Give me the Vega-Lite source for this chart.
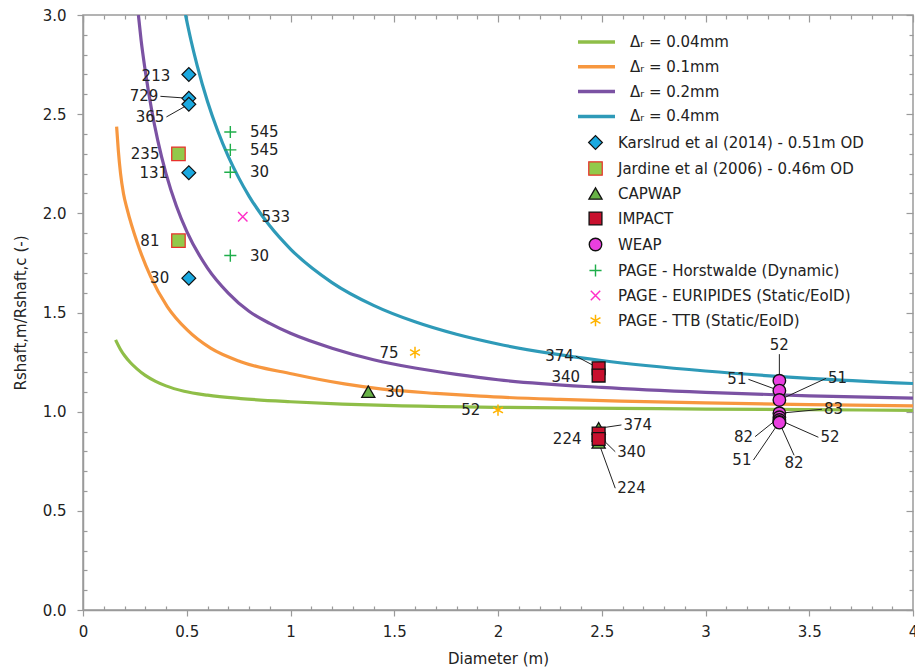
{
  "$schema": "https://vega.github.io/schema/vega-lite/v6.json",
  "width": 830,
  "height": 595,
  "autosize": {"type": "none"},
  "padding": {"left": 83, "top": 15, "right": 2, "bottom": 62},
  "config": {
    "font": "DejaVu Sans",
    "view": {"stroke": "#9a9a9a", "strokeWidth": 1.5},
    "axis": {
      "domainColor": "#9a9a9a", "domainWidth": 1.5,
      "tickColor": "#9a9a9a", "tickWidth": 1.2,
      "labelColor": "#222", "titleColor": "#222",
      "labelFontSize": 15, "titleFontSize": 15, "titleFontWeight": "normal",
      "grid": false, "labelOverlap": false, "labelFlush": false, "labelBound": false
    },
    "legend": {"labelColor": "#222", "labelFontSize": 15, "title": null, "labelLimit": 320}
  },
  "datasets": {
    "curves": [
      {"curve": "Δᵣ = 0.04mm", "D": 0.157, "R": 1.362},
      {"curve": "Δᵣ = 0.04mm", "D": 0.18, "R": 1.315},
      {"curve": "Δᵣ = 0.04mm", "D": 0.2, "R": 1.283},
      {"curve": "Δᵣ = 0.04mm", "D": 0.228, "R": 1.248},
      {"curve": "Δᵣ = 0.04mm", "D": 0.26, "R": 1.216},
      {"curve": "Δᵣ = 0.04mm", "D": 0.3, "R": 1.183},
      {"curve": "Δᵣ = 0.04mm", "D": 0.35, "R": 1.153},
      {"curve": "Δᵣ = 0.04mm", "D": 0.4, "R": 1.13},
      {"curve": "Δᵣ = 0.04mm", "D": 0.487, "R": 1.103},
      {"curve": "Δᵣ = 0.04mm", "D": 0.6, "R": 1.083},
      {"curve": "Δᵣ = 0.04mm", "D": 0.76, "R": 1.066},
      {"curve": "Δᵣ = 0.04mm", "D": 1.0, "R": 1.05},
      {"curve": "Δᵣ = 0.04mm", "D": 1.25, "R": 1.038},
      {"curve": "Δᵣ = 0.04mm", "D": 1.5, "R": 1.03},
      {"curve": "Δᵣ = 0.04mm", "D": 2.0, "R": 1.022},
      {"curve": "Δᵣ = 0.04mm", "D": 2.59, "R": 1.017},
      {"curve": "Δᵣ = 0.04mm", "D": 3.0, "R": 1.013},
      {"curve": "Δᵣ = 0.04mm", "D": 3.5, "R": 1.01},
      {"curve": "Δᵣ = 0.04mm", "D": 4.0, "R": 1.007},
      {"curve": "Δᵣ = 0.1mm", "D": 0.162, "R": 2.437},
      {"curve": "Δᵣ = 0.1mm", "D": 0.17, "R": 2.32},
      {"curve": "Δᵣ = 0.1mm", "D": 0.181, "R": 2.2},
      {"curve": "Δᵣ = 0.1mm", "D": 0.195, "R": 2.1},
      {"curve": "Δᵣ = 0.1mm", "D": 0.213, "R": 2.02},
      {"curve": "Δᵣ = 0.1mm", "D": 0.262, "R": 1.85},
      {"curve": "Δᵣ = 0.1mm", "D": 0.326, "R": 1.681},
      {"curve": "Δᵣ = 0.1mm", "D": 0.406, "R": 1.53},
      {"curve": "Δᵣ = 0.1mm", "D": 0.502, "R": 1.412},
      {"curve": "Δᵣ = 0.1mm", "D": 0.615, "R": 1.32},
      {"curve": "Δᵣ = 0.1mm", "D": 0.76, "R": 1.252},
      {"curve": "Δᵣ = 0.1mm", "D": 1.01, "R": 1.19},
      {"curve": "Δᵣ = 0.1mm", "D": 1.26, "R": 1.14},
      {"curve": "Δᵣ = 0.1mm", "D": 1.433, "R": 1.115},
      {"curve": "Δᵣ = 0.1mm", "D": 1.7, "R": 1.092},
      {"curve": "Δᵣ = 0.1mm", "D": 1.915, "R": 1.078},
      {"curve": "Δᵣ = 0.1mm", "D": 2.3, "R": 1.062},
      {"curve": "Δᵣ = 0.1mm", "D": 2.59, "R": 1.053},
      {"curve": "Δᵣ = 0.1mm", "D": 3.0, "R": 1.044},
      {"curve": "Δᵣ = 0.1mm", "D": 3.5, "R": 1.036},
      {"curve": "Δᵣ = 0.1mm", "D": 4.0, "R": 1.029},
      {"curve": "Δᵣ = 0.2mm", "D": 0.267, "R": 3.0},
      {"curve": "Δᵣ = 0.2mm", "D": 0.28, "R": 2.873},
      {"curve": "Δᵣ = 0.2mm", "D": 0.3, "R": 2.719},
      {"curve": "Δᵣ = 0.2mm", "D": 0.33, "R": 2.526},
      {"curve": "Δᵣ = 0.2mm", "D": 0.36, "R": 2.369},
      {"curve": "Δᵣ = 0.2mm", "D": 0.4, "R": 2.2},
      {"curve": "Δᵣ = 0.2mm", "D": 0.45, "R": 2.037},
      {"curve": "Δᵣ = 0.2mm", "D": 0.5, "R": 1.909},
      {"curve": "Δᵣ = 0.2mm", "D": 0.6, "R": 1.724},
      {"curve": "Δᵣ = 0.2mm", "D": 0.7, "R": 1.598},
      {"curve": "Δᵣ = 0.2mm", "D": 0.8, "R": 1.506},
      {"curve": "Δᵣ = 0.2mm", "D": 0.9, "R": 1.445},
      {"curve": "Δᵣ = 0.2mm", "D": 1.0, "R": 1.395},
      {"curve": "Δᵣ = 0.2mm", "D": 1.2, "R": 1.32},
      {"curve": "Δᵣ = 0.2mm", "D": 1.4, "R": 1.262},
      {"curve": "Δᵣ = 0.2mm", "D": 1.6, "R": 1.22},
      {"curve": "Δᵣ = 0.2mm", "D": 1.8, "R": 1.188},
      {"curve": "Δᵣ = 0.2mm", "D": 2.0, "R": 1.161},
      {"curve": "Δᵣ = 0.2mm", "D": 2.5, "R": 1.122},
      {"curve": "Δᵣ = 0.2mm", "D": 3.0, "R": 1.097},
      {"curve": "Δᵣ = 0.2mm", "D": 3.5, "R": 1.08},
      {"curve": "Δᵣ = 0.2mm", "D": 4.0, "R": 1.068},
      {"curve": "Δᵣ = 0.4mm", "D": 0.494, "R": 3.0},
      {"curve": "Δᵣ = 0.4mm", "D": 0.52, "R": 2.874},
      {"curve": "Δᵣ = 0.4mm", "D": 0.55, "R": 2.746},
      {"curve": "Δᵣ = 0.4mm", "D": 0.6, "R": 2.564},
      {"curve": "Δᵣ = 0.4mm", "D": 0.65, "R": 2.414},
      {"curve": "Δᵣ = 0.4mm", "D": 0.7, "R": 2.287},
      {"curve": "Δᵣ = 0.4mm", "D": 0.75, "R": 2.18},
      {"curve": "Δᵣ = 0.4mm", "D": 0.8, "R": 2.087},
      {"curve": "Δᵣ = 0.4mm", "D": 0.9, "R": 1.937},
      {"curve": "Δᵣ = 0.4mm", "D": 1.0, "R": 1.82},
      {"curve": "Δᵣ = 0.4mm", "D": 1.2, "R": 1.651},
      {"curve": "Δᵣ = 0.4mm", "D": 1.4, "R": 1.536},
      {"curve": "Δᵣ = 0.4mm", "D": 1.6, "R": 1.453},
      {"curve": "Δᵣ = 0.4mm", "D": 1.8, "R": 1.39},
      {"curve": "Δᵣ = 0.4mm", "D": 2.0, "R": 1.341},
      {"curve": "Δᵣ = 0.4mm", "D": 2.5, "R": 1.258},
      {"curve": "Δᵣ = 0.4mm", "D": 3.0, "R": 1.205},
      {"curve": "Δᵣ = 0.4mm", "D": 3.5, "R": 1.168},
      {"curve": "Δᵣ = 0.4mm", "D": 4.0, "R": 1.142}
    ],
    "points": [
      {"source": "Karslrud et al (2014) - 0.51m OD", "D": 0.51, "R": 2.7, "label": "213", "labelD": 0.43, "labelR": 2.69},
      {"source": "Karslrud et al (2014) - 0.51m OD", "D": 0.51, "R": 2.58, "label": "729", "labelD": 0.373, "labelR": 2.59},
      {"source": "Karslrud et al (2014) - 0.51m OD", "D": 0.51, "R": 2.55, "label": "365", "labelD": 0.402, "labelR": 2.486},
      {"source": "Karslrud et al (2014) - 0.51m OD", "D": 0.51, "R": 2.205, "label": "131", "labelD": 0.42, "labelR": 2.205},
      {"source": "Karslrud et al (2014) - 0.51m OD", "D": 0.51, "R": 1.673, "label": "30", "labelD": 0.425, "labelR": 1.673},
      {"source": "Jardine et al (2006) - 0.46m OD", "D": 0.46, "R": 2.3, "label": "235", "labelD": 0.378, "labelR": 2.3},
      {"source": "Jardine et al (2006) - 0.46m OD", "D": 0.46, "R": 1.862, "label": "81", "labelD": 0.378, "labelR": 1.862},
      {"source": "CAPWAP", "D": 1.375, "R": 1.101, "label": "30", "labelD": 1.447, "labelR": 1.101},
      {"source": "CAPWAP", "D": 2.485, "R": 0.916, "label": "374", "labelD": 2.595, "labelR": 0.933},
      {"source": "CAPWAP", "D": 2.485, "R": 0.88, "label": "340", "labelD": 2.565, "labelR": 0.798},
      {"source": "CAPWAP", "D": 2.485, "R": 0.845, "label": "224", "labelD": 2.565, "labelR": 0.614},
      {"source": "IMPACT", "D": 2.485, "R": 1.219, "label": "374", "labelD": 2.375, "labelR": 1.28},
      {"source": "IMPACT", "D": 2.485, "R": 1.182, "label": "340", "labelD": 2.405, "labelR": 1.177},
      {"source": "IMPACT", "D": 2.485, "R": 0.89, "label": "224", "labelD": 2.412, "labelR": 0.86},
      {"source": "IMPACT", "D": 2.485, "R": 0.862, "label": "", "labelD": 2.485, "labelR": 0.862},
      {"source": "WEAP", "D": 3.356, "R": 1.156, "label": "52", "labelD": 3.356, "labelR": 1.29},
      {"source": "WEAP", "D": 3.356, "R": 1.106, "label": "51", "labelD": 3.207, "labelR": 1.163},
      {"source": "WEAP", "D": 3.356, "R": 1.059, "label": "51", "labelD": 3.581, "labelR": 1.168},
      {"source": "WEAP", "D": 3.356, "R": 0.992, "label": "83", "labelD": 3.561, "labelR": 1.012},
      {"source": "WEAP", "D": 3.356, "R": 0.972, "label": "82", "labelD": 3.239, "labelR": 0.874},
      {"source": "WEAP", "D": 3.356, "R": 0.958, "label": "52", "labelD": 3.544, "labelR": 0.871},
      {"source": "WEAP", "D": 3.356, "R": 0.948, "label": "51", "labelD": 3.231, "labelR": 0.756},
      {"source": "WEAP", "D": 3.356, "R": 0.945, "label": "82", "labelD": 3.427, "labelR": 0.78},
      {"source": "PAGE - Horstwalde (Dynamic)", "D": 0.71, "R": 2.41, "label": "545", "labelD": 0.795, "labelR": 2.41},
      {"source": "PAGE - Horstwalde (Dynamic)", "D": 0.71, "R": 2.32, "label": "545", "labelD": 0.795, "labelR": 2.32},
      {"source": "PAGE - Horstwalde (Dynamic)", "D": 0.71, "R": 2.207, "label": "30", "labelD": 0.795, "labelR": 2.207},
      {"source": "PAGE - Horstwalde (Dynamic)", "D": 0.71, "R": 1.787, "label": "30", "labelD": 0.795, "labelR": 1.787},
      {"source": "PAGE - EURIPIDES (Static/EoID)", "D": 0.77, "R": 1.983, "label": "533", "labelD": 0.85, "labelR": 1.983},
      {"source": "PAGE - TTB (Static/EoID)", "D": 1.6, "R": 1.298, "label": "75", "labelD": 1.53, "labelR": 1.298},
      {"source": "PAGE - TTB (Static/EoID)", "D": 2.0, "R": 1.008, "label": "52", "labelD": 1.924, "labelR": 1.008}
    ]
  },
  "layer": [
    {
      "data": {"name": "curves"},
      "mark": {"type": "line", "strokeWidth": 3.2, "interpolate": "monotone", "clip": true},
      "encoding": {
        "x": {
          "field": "D", "type": "quantitative",
          "scale": {"domain": [0, 4], "nice": false, "zero": false},
          "axis": {
            "orient": "bottom", "title": "Diameter (m)", "titlePadding": 12,
            "values": [0,0.1,0.2,0.3,0.4,0.5,0.6,0.7,0.8,0.9,1,1.1,1.2,1.3,1.4,1.5,1.6,1.7,1.8,1.9,2,2.1,2.2,2.3,2.4,2.5,2.6,2.7,2.8,2.9,3,3.1,3.2,3.3,3.4,3.5,3.6,3.7,3.8,3.9,4],
            "labelExpr": "round(datum.value*2) == datum.value*2 ? format(datum.value, '~g') : ''",
            "tickSize": {"condition": {"test": "round(datum.value*2) == datum.value*2", "value": 6}, "value": -4},
            "labelPadding": 8
          }
        },
        "y": {
          "field": "R", "type": "quantitative",
          "scale": {"domain": [0, 3], "nice": false, "zero": false},
          "axis": {
            "orient": "left", "title": "Rshaft,m/Rshaft,c (-)", "titlePadding": 14,
            "values": [0,0.1,0.2,0.3,0.4,0.5,0.6,0.7,0.8,0.9,1,1.1,1.2,1.3,1.4,1.5,1.6,1.7,1.8,1.9,2,2.1,2.2,2.3,2.4,2.5,2.6,2.7,2.8,2.9,3],
            "labelExpr": "round(datum.value*2) == datum.value*2 ? format(datum.value, '.1f') : ''",
            "tickSize": {"condition": {"test": "round(datum.value*2) == datum.value*2", "value": 6}, "value": -4},
            "labelPadding": 11
          }
        },
        "color": {
          "field": "curve", "type": "nominal",
          "scale": {"domain": ["Δᵣ = 0.04mm", "Δᵣ = 0.1mm", "Δᵣ = 0.2mm", "Δᵣ = 0.4mm"], "range": ["#8fbe48", "#f7973f", "#7b52a3", "#2e9ab8"]},
          "legend": {"orient": "none", "legendX": 493, "legendY": 19, "symbolType": "stroke", "symbolSize": 1369, "symbolStrokeWidth": 3.5, "labelOffset": 13, "rowPadding": 8.8, "clipHeight": 16}
        }
      }
    },
    {
      "data": {"name": "points"},
      "transform": [
        {"filter": "datum.label != '' && sqrt(pow((datum.labelD - datum.D) * 207.5, 2) + pow((datum.labelR - datum.R) * 198.3, 2)) > 21"}
      ],
      "mark": {"type": "rule", "stroke": "#222", "strokeWidth": 1},
      "encoding": {
        "x": {"field": "D", "type": "quantitative", "axis": null},
        "y": {"field": "R", "type": "quantitative", "axis": null},
        "x2": {"field": "labelD"},
        "y2": {"field": "labelR"}
      }
    },
    {
      "data": {"name": "points"},
      "mark": {"type": "point", "opacity": 1},
      "encoding": {
        "x": {
          "field": "D", "type": "quantitative",
          "axis": {
            "orient": "top", "title": null, "labels": false, "domain": false,
            "values": [0,0.1,0.2,0.3,0.4,0.5,0.6,0.7,0.8,0.9,1,1.1,1.2,1.3,1.4,1.5,1.6,1.7,1.8,1.9,2,2.1,2.2,2.3,2.4,2.5,2.6,2.7,2.8,2.9,3,3.1,3.2,3.3,3.4,3.5,3.6,3.7,3.8,3.9,4],
            "tickSize": {"condition": {"test": "round(datum.value*2) == datum.value*2", "value": -7}, "value": -4}
          }
        },
        "y": {
          "field": "R", "type": "quantitative",
          "axis": {
            "orient": "right", "title": null, "labels": false, "domain": false,
            "values": [0,0.1,0.2,0.3,0.4,0.5,0.6,0.7,0.8,0.9,1,1.1,1.2,1.3,1.4,1.5,1.6,1.7,1.8,1.9,2,2.1,2.2,2.3,2.4,2.5,2.6,2.7,2.8,2.9,3],
            "tickSize": {"condition": {"test": "round(datum.value*2) == datum.value*2", "value": -7}, "value": -4}
          }
        },
        "shape": {
          "field": "source", "type": "nominal",
          "scale": {
            "domain": ["Karslrud et al (2014) - 0.51m OD", "Jardine et al (2006) - 0.46m OD", "CAPWAP", "IMPACT", "WEAP", "PAGE - Horstwalde (Dynamic)", "PAGE - EURIPIDES (Static/EoID)", "PAGE - TTB (Static/EoID)"],
            "range": ["diamond", "square", "triangle-up", "square", "circle", "M-1,0L1,0M0,-1L0,1", "M-0.8,-0.8L0.8,0.8M-0.8,0.8L0.8,-0.8", "M0,-1L0,1M-0.87,-0.5L0.87,0.5M-0.87,0.5L0.87,-0.5"]
          },
          "legend": {"orient": "none", "legendX": 505, "legendY": 120, "labelOffset": 15, "rowPadding": 7}
        },
        "fill": {
          "field": "source", "type": "nominal",
          "scale": {
            "domain": ["Karslrud et al (2014) - 0.51m OD", "Jardine et al (2006) - 0.46m OD", "CAPWAP", "IMPACT", "WEAP", "PAGE - Horstwalde (Dynamic)", "PAGE - EURIPIDES (Static/EoID)", "PAGE - TTB (Static/EoID)"],
            "range": ["#1aa9e0", "#92c94a", "#68b247", "#c8102e", "#ea3fe0", "transparent", "transparent", "transparent"]
          },
          "legend": {"orient": "none", "legendX": 505, "legendY": 120, "labelOffset": 15, "rowPadding": 7}
        },
        "stroke": {
          "field": "source", "type": "nominal",
          "scale": {
            "domain": ["Karslrud et al (2014) - 0.51m OD", "Jardine et al (2006) - 0.46m OD", "CAPWAP", "IMPACT", "WEAP", "PAGE - Horstwalde (Dynamic)", "PAGE - EURIPIDES (Static/EoID)", "PAGE - TTB (Static/EoID)"],
            "range": ["#111111", "#e8312a", "#111111", "#111111", "#111111", "#1fae4b", "#ff2fc8", "#ffb300"]
          },
          "legend": {"orient": "none", "legendX": 505, "legendY": 120, "labelOffset": 15, "rowPadding": 7}
        },
        "size": {
          "field": "source", "type": "nominal",
          "scale": {
            "domain": ["Karslrud et al (2014) - 0.51m OD", "Jardine et al (2006) - 0.46m OD", "CAPWAP", "IMPACT", "WEAP", "PAGE - Horstwalde (Dynamic)", "PAGE - EURIPIDES (Static/EoID)", "PAGE - TTB (Static/EoID)"],
            "range": [190, 130, 110, 90, 75, 150, 140, 210]
          },
          "legend": {"orient": "none", "legendX": 505, "legendY": 120, "labelOffset": 15, "rowPadding": 7}
        },
        "strokeWidth": {
          "field": "source", "type": "nominal",
          "scale": {
            "domain": ["Karslrud et al (2014) - 0.51m OD", "Jardine et al (2006) - 0.46m OD", "CAPWAP", "IMPACT", "WEAP", "PAGE - Horstwalde (Dynamic)", "PAGE - EURIPIDES (Static/EoID)", "PAGE - TTB (Static/EoID)"],
            "range": [1.2, 1.5, 1.2, 1.2, 1.2, 2, 2, 2.6]
          },
          "legend": {"orient": "none", "legendX": 505, "legendY": 120, "labelOffset": 15, "rowPadding": 7}
        }
      }
    },
    {
      "data": {"name": "points"},
      "transform": [{"filter": "datum.label != '' && !(abs(datum.labelD - datum.D) < 0.075 && abs(datum.labelR - datum.R) > 0.1) && datum.labelD < datum.D"}],
      "mark": {"type": "text", "align": "right", "baseline": "middle", "dx": -2, "fontSize": 15, "color": "#222"},
      "encoding": {
        "x": {"field": "labelD", "type": "quantitative", "axis": null},
        "y": {"field": "labelR", "type": "quantitative", "axis": null},
        "text": {"field": "label"}
      }
    },
    {
      "data": {"name": "points"},
      "transform": [{"filter": "datum.label != '' && !(abs(datum.labelD - datum.D) < 0.075 && abs(datum.labelR - datum.R) > 0.1) && datum.labelD > datum.D"}],
      "mark": {"type": "text", "align": "left", "baseline": "middle", "dx": 2, "fontSize": 15, "color": "#222"},
      "encoding": {
        "x": {"field": "labelD", "type": "quantitative", "axis": null},
        "y": {"field": "labelR", "type": "quantitative", "axis": null},
        "text": {"field": "label"}
      }
    },
    {
      "data": {"name": "points"},
      "transform": [{"filter": "datum.label != '' && abs(datum.labelD - datum.D) < 0.075 && datum.labelR - datum.R > 0.1"}],
      "mark": {"type": "text", "align": "center", "baseline": "bottom", "dy": -1, "fontSize": 15, "color": "#222"},
      "encoding": {
        "x": {"field": "labelD", "type": "quantitative", "axis": null},
        "y": {"field": "labelR", "type": "quantitative", "axis": null},
        "text": {"field": "label"}
      }
    },
    {
      "data": {"name": "points"},
      "transform": [{"filter": "datum.label != '' && abs(datum.labelD - datum.D) < 0.075 && datum.R - datum.labelR > 0.1"}],
      "mark": {"type": "text", "align": "center", "baseline": "top", "dy": 1, "fontSize": 15, "color": "#222"},
      "encoding": {
        "x": {"field": "labelD", "type": "quantitative", "axis": null},
        "y": {"field": "labelR", "type": "quantitative", "axis": null},
        "text": {"field": "label"}
      }
    }
  ],
  "resolve": {"axis": {"x": "independent", "y": "independent"}}
}
